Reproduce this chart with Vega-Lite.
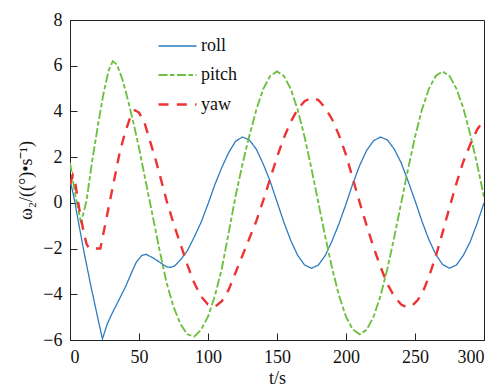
{
  "$schema": "https://vega.github.io/schema/vega-lite/v6.json",
  "width": 414,
  "height": 320,
  "autosize": {"type": "none"},
  "padding": {"left": 70, "top": 20, "right": 17, "bottom": 48},
  "background": "white",
  "config": {
    "font": "Times New Roman, Times, Nimbus Roman, FreeSerif, Noto Serif, DejaVu Serif, Liberation Serif, serif",
    "view": {"stroke": "#222", "strokeWidth": 1},
    "axis": {
      "domainColor": "#222",
      "tickColor": "#222",
      "labelColor": "#111",
      "titleColor": "#111",
      "labelFont": "Times New Roman, Times, Nimbus Roman, FreeSerif, Noto Serif, DejaVu Serif, Liberation Serif, serif",
      "titleFont": "Times New Roman, Times, Nimbus Roman, FreeSerif, Noto Serif, DejaVu Serif, Liberation Serif, serif",
      "labelFontSize": 18,
      "titleFontSize": 18,
      "titleFontWeight": "normal",
      "grid": false,
      "tickSize": -7,
      "tickWidth": 1
    },
    "legend": {
      "labelFont": "Times New Roman, Times, Nimbus Roman, FreeSerif, Noto Serif, DejaVu Serif, Liberation Serif, serif",
      "labelFontSize": 18,
      "labelColor": "#111"
    }
  },
  "data": {
    "values": [
      {"t": 0, "v": 1.0, "s": "roll"},
      {"t": 3, "v": 0.2, "s": "roll"},
      {"t": 6, "v": -0.8, "s": "roll"},
      {"t": 10, "v": -2.1, "s": "roll"},
      {"t": 15, "v": -3.6, "s": "roll"},
      {"t": 20, "v": -5.0, "s": "roll"},
      {"t": 23.5, "v": -5.95, "s": "roll"},
      {"t": 27, "v": -5.3, "s": "roll"},
      {"t": 30, "v": -4.9, "s": "roll"},
      {"t": 35, "v": -4.3, "s": "roll"},
      {"t": 40, "v": -3.7, "s": "roll"},
      {"t": 45, "v": -3.0, "s": "roll"},
      {"t": 48, "v": -2.6, "s": "roll"},
      {"t": 52, "v": -2.3, "s": "roll"},
      {"t": 55, "v": -2.25, "s": "roll"},
      {"t": 60, "v": -2.4, "s": "roll"},
      {"t": 65, "v": -2.6, "s": "roll"},
      {"t": 70, "v": -2.8, "s": "roll"},
      {"t": 73, "v": -2.82, "s": "roll"},
      {"t": 76, "v": -2.75, "s": "roll"},
      {"t": 80, "v": -2.5, "s": "roll"},
      {"t": 85, "v": -2.1, "s": "roll"},
      {"t": 90, "v": -1.5, "s": "roll"},
      {"t": 95, "v": -0.85, "s": "roll"},
      {"t": 100, "v": -0.05, "s": "roll"},
      {"t": 105, "v": 0.8, "s": "roll"},
      {"t": 110, "v": 1.55, "s": "roll"},
      {"t": 115, "v": 2.2, "s": "roll"},
      {"t": 120, "v": 2.7, "s": "roll"},
      {"t": 125, "v": 2.88, "s": "roll"},
      {"t": 130, "v": 2.75, "s": "roll"},
      {"t": 135, "v": 2.35, "s": "roll"},
      {"t": 140, "v": 1.7, "s": "roll"},
      {"t": 145, "v": 0.95, "s": "roll"},
      {"t": 150, "v": 0.05, "s": "roll"},
      {"t": 155, "v": -0.85, "s": "roll"},
      {"t": 160, "v": -1.65, "s": "roll"},
      {"t": 165, "v": -2.3, "s": "roll"},
      {"t": 170, "v": -2.72, "s": "roll"},
      {"t": 175, "v": -2.86, "s": "roll"},
      {"t": 180, "v": -2.72, "s": "roll"},
      {"t": 185, "v": -2.3, "s": "roll"},
      {"t": 190, "v": -1.65, "s": "roll"},
      {"t": 195, "v": -0.9, "s": "roll"},
      {"t": 200, "v": -0.05, "s": "roll"},
      {"t": 205, "v": 0.85, "s": "roll"},
      {"t": 210, "v": 1.65, "s": "roll"},
      {"t": 215, "v": 2.3, "s": "roll"},
      {"t": 220, "v": 2.72, "s": "roll"},
      {"t": 225, "v": 2.88, "s": "roll"},
      {"t": 230, "v": 2.75, "s": "roll"},
      {"t": 235, "v": 2.35, "s": "roll"},
      {"t": 240, "v": 1.75, "s": "roll"},
      {"t": 245, "v": 0.95, "s": "roll"},
      {"t": 250, "v": 0.1, "s": "roll"},
      {"t": 255, "v": -0.8, "s": "roll"},
      {"t": 260, "v": -1.6, "s": "roll"},
      {"t": 265, "v": -2.25, "s": "roll"},
      {"t": 270, "v": -2.7, "s": "roll"},
      {"t": 275, "v": -2.86, "s": "roll"},
      {"t": 280, "v": -2.72, "s": "roll"},
      {"t": 285, "v": -2.3, "s": "roll"},
      {"t": 290, "v": -1.7, "s": "roll"},
      {"t": 295, "v": -0.9, "s": "roll"},
      {"t": 300, "v": 0.0, "s": "roll"},

      {"t": 0, "v": 1.75, "s": "pitch"},
      {"t": 4, "v": 0.3, "s": "pitch"},
      {"t": 8, "v": -0.87, "s": "pitch"},
      {"t": 12, "v": 0.1, "s": "pitch"},
      {"t": 16, "v": 1.8, "s": "pitch"},
      {"t": 20, "v": 3.3, "s": "pitch"},
      {"t": 24, "v": 4.7, "s": "pitch"},
      {"t": 28, "v": 5.8, "s": "pitch"},
      {"t": 31, "v": 6.2, "s": "pitch"},
      {"t": 34, "v": 6.05, "s": "pitch"},
      {"t": 38, "v": 5.4, "s": "pitch"},
      {"t": 42, "v": 4.5, "s": "pitch"},
      {"t": 46, "v": 3.5, "s": "pitch"},
      {"t": 50, "v": 2.4, "s": "pitch"},
      {"t": 55, "v": 0.9, "s": "pitch"},
      {"t": 60, "v": -0.6, "s": "pitch"},
      {"t": 65, "v": -2.1, "s": "pitch"},
      {"t": 70, "v": -3.5, "s": "pitch"},
      {"t": 75, "v": -4.55, "s": "pitch"},
      {"t": 80, "v": -5.3, "s": "pitch"},
      {"t": 85, "v": -5.75, "s": "pitch"},
      {"t": 90, "v": -5.85, "s": "pitch"},
      {"t": 95, "v": -5.55, "s": "pitch"},
      {"t": 100, "v": -4.98, "s": "pitch"},
      {"t": 105, "v": -4.07, "s": "pitch"},
      {"t": 110, "v": -2.88, "s": "pitch"},
      {"t": 115, "v": -1.3, "s": "pitch"},
      {"t": 120, "v": 0.3, "s": "pitch"},
      {"t": 125, "v": 1.7, "s": "pitch"},
      {"t": 130, "v": 2.95, "s": "pitch"},
      {"t": 135, "v": 4.07, "s": "pitch"},
      {"t": 140, "v": 4.98, "s": "pitch"},
      {"t": 145, "v": 5.55, "s": "pitch"},
      {"t": 150, "v": 5.75, "s": "pitch"},
      {"t": 155, "v": 5.55, "s": "pitch"},
      {"t": 160, "v": 4.98, "s": "pitch"},
      {"t": 165, "v": 4.07, "s": "pitch"},
      {"t": 170, "v": 2.88, "s": "pitch"},
      {"t": 175, "v": 1.49, "s": "pitch"},
      {"t": 180, "v": 0.0, "s": "pitch"},
      {"t": 185, "v": -1.49, "s": "pitch"},
      {"t": 190, "v": -2.88, "s": "pitch"},
      {"t": 195, "v": -4.07, "s": "pitch"},
      {"t": 200, "v": -4.98, "s": "pitch"},
      {"t": 205, "v": -5.55, "s": "pitch"},
      {"t": 210, "v": -5.75, "s": "pitch"},
      {"t": 215, "v": -5.55, "s": "pitch"},
      {"t": 220, "v": -4.98, "s": "pitch"},
      {"t": 225, "v": -4.07, "s": "pitch"},
      {"t": 230, "v": -2.88, "s": "pitch"},
      {"t": 235, "v": -1.49, "s": "pitch"},
      {"t": 240, "v": 0.0, "s": "pitch"},
      {"t": 245, "v": 1.49, "s": "pitch"},
      {"t": 250, "v": 2.88, "s": "pitch"},
      {"t": 255, "v": 4.07, "s": "pitch"},
      {"t": 260, "v": 4.98, "s": "pitch"},
      {"t": 265, "v": 5.55, "s": "pitch"},
      {"t": 270, "v": 5.75, "s": "pitch"},
      {"t": 275, "v": 5.55, "s": "pitch"},
      {"t": 280, "v": 5.0, "s": "pitch"},
      {"t": 285, "v": 4.15, "s": "pitch"},
      {"t": 290, "v": 3.0, "s": "pitch"},
      {"t": 295, "v": 1.7, "s": "pitch"},
      {"t": 300, "v": 0.25, "s": "pitch"},

      {"t": 0, "v": 0.8, "s": "yaw"},
      {"t": 2, "v": 1.2, "s": "yaw"},
      {"t": 4, "v": 0.8, "s": "yaw"},
      {"t": 6, "v": 0.0, "s": "yaw"},
      {"t": 8, "v": -0.7, "s": "yaw"},
      {"t": 10, "v": -1.3, "s": "yaw"},
      {"t": 12, "v": -1.8, "s": "yaw"},
      {"t": 14, "v": -2.0, "s": "yaw"},
      {"t": 22, "v": -2.0, "s": "yaw"},
      {"t": 24, "v": -1.4, "s": "yaw"},
      {"t": 27, "v": -0.5, "s": "yaw"},
      {"t": 30, "v": 0.4, "s": "yaw"},
      {"t": 33, "v": 1.3, "s": "yaw"},
      {"t": 36, "v": 2.2, "s": "yaw"},
      {"t": 40, "v": 3.1, "s": "yaw"},
      {"t": 44, "v": 3.8, "s": "yaw"},
      {"t": 47, "v": 4.05, "s": "yaw"},
      {"t": 50, "v": 3.95, "s": "yaw"},
      {"t": 54, "v": 3.5, "s": "yaw"},
      {"t": 58, "v": 2.7, "s": "yaw"},
      {"t": 62, "v": 1.9, "s": "yaw"},
      {"t": 66, "v": 1.0, "s": "yaw"},
      {"t": 70, "v": 0.1, "s": "yaw"},
      {"t": 75, "v": -0.9, "s": "yaw"},
      {"t": 80, "v": -1.8, "s": "yaw"},
      {"t": 85, "v": -2.7, "s": "yaw"},
      {"t": 90, "v": -3.5, "s": "yaw"},
      {"t": 95, "v": -4.1, "s": "yaw"},
      {"t": 100, "v": -4.45, "s": "yaw"},
      {"t": 105, "v": -4.55, "s": "yaw"},
      {"t": 110, "v": -4.3, "s": "yaw"},
      {"t": 115, "v": -3.8, "s": "yaw"},
      {"t": 120, "v": -3.05, "s": "yaw"},
      {"t": 125, "v": -2.3, "s": "yaw"},
      {"t": 130, "v": -1.55, "s": "yaw"},
      {"t": 135, "v": -0.8, "s": "yaw"},
      {"t": 140, "v": 0.1, "s": "yaw"},
      {"t": 145, "v": 1.05, "s": "yaw"},
      {"t": 150, "v": 2.0, "s": "yaw"},
      {"t": 155, "v": 2.85, "s": "yaw"},
      {"t": 160, "v": 3.55, "s": "yaw"},
      {"t": 165, "v": 4.1, "s": "yaw"},
      {"t": 170, "v": 4.45, "s": "yaw"},
      {"t": 175, "v": 4.6, "s": "yaw"},
      {"t": 180, "v": 4.5, "s": "yaw"},
      {"t": 185, "v": 4.15, "s": "yaw"},
      {"t": 190, "v": 3.65, "s": "yaw"},
      {"t": 195, "v": 2.95, "s": "yaw"},
      {"t": 200, "v": 2.1, "s": "yaw"},
      {"t": 205, "v": 1.05, "s": "yaw"},
      {"t": 210, "v": 0.0, "s": "yaw"},
      {"t": 215, "v": -1.0, "s": "yaw"},
      {"t": 220, "v": -1.95, "s": "yaw"},
      {"t": 225, "v": -2.8, "s": "yaw"},
      {"t": 230, "v": -3.55, "s": "yaw"},
      {"t": 235, "v": -4.1, "s": "yaw"},
      {"t": 240, "v": -4.45, "s": "yaw"},
      {"t": 244, "v": -4.57, "s": "yaw"},
      {"t": 248, "v": -4.5, "s": "yaw"},
      {"t": 252, "v": -4.25, "s": "yaw"},
      {"t": 256, "v": -3.85, "s": "yaw"},
      {"t": 260, "v": -3.25, "s": "yaw"},
      {"t": 265, "v": -2.35, "s": "yaw"},
      {"t": 270, "v": -1.3, "s": "yaw"},
      {"t": 275, "v": -0.2, "s": "yaw"},
      {"t": 280, "v": 0.85, "s": "yaw"},
      {"t": 285, "v": 1.8, "s": "yaw"},
      {"t": 290, "v": 2.55, "s": "yaw"},
      {"t": 295, "v": 3.2, "s": "yaw"},
      {"t": 300, "v": 3.65, "s": "yaw"}
    ]
  },
  "mark": {"type": "line", "clip": true},
  "encoding": {
    "x": {
      "field": "t",
      "type": "quantitative",
      "scale": {"domain": [0, 300], "nice": false},
      "axis": {"values": [0, 50, 100, 150, 200, 250, 300], "title": "t/s", "labelPadding": 15, "titlePadding": 3}
    },
    "y": {
      "field": "v",
      "type": "quantitative",
      "scale": {"domain": [-6, 8], "nice": false},
      "axis": {"values": [-6, -4, -2, 0, 2, 4, 6, 8], "title": "ω₂/((°)•s⁻¹)", "labelPadding": 15, "titlePadding": 7}
    },
    "color": {
      "field": "s",
      "type": "nominal",
      "scale": {"domain": ["roll", "pitch", "yaw"], "range": ["#2e7cc0", "#6cbf3f", "#ee3333"]},
      "legend": {
        "title": null,
        "orient": "none",
        "legendX": 87,
        "legendY": 6,
        "padding": 0,
        "symbolType": "stroke",
        "symbolSize": 1444,
        "rowPadding": -18.5,
        "labelOffset": 3
      }
    },
    "strokeDash": {
      "field": "s",
      "type": "nominal",
      "scale": {"domain": ["roll", "pitch", "yaw"], "range": [[1, 0], [9, 2.5, 4.5, 2.5], [10, 8.3]]},
      "legend": {
        "title": null,
        "orient": "none",
        "legendX": 87,
        "legendY": 6,
        "padding": 0,
        "symbolType": "stroke",
        "symbolSize": 1444,
        "rowPadding": -18.5,
        "labelOffset": 3
      }
    },
    "strokeWidth": {
      "field": "s",
      "type": "nominal",
      "scale": {"domain": ["roll", "pitch", "yaw"], "range": [1.3, 2.4, 2.4]},
      "legend": {
        "title": null,
        "orient": "none",
        "legendX": 87,
        "legendY": 6,
        "padding": 0,
        "symbolType": "stroke",
        "symbolSize": 1444,
        "rowPadding": -18.5,
        "labelOffset": 3
      }
    }
  }
}
